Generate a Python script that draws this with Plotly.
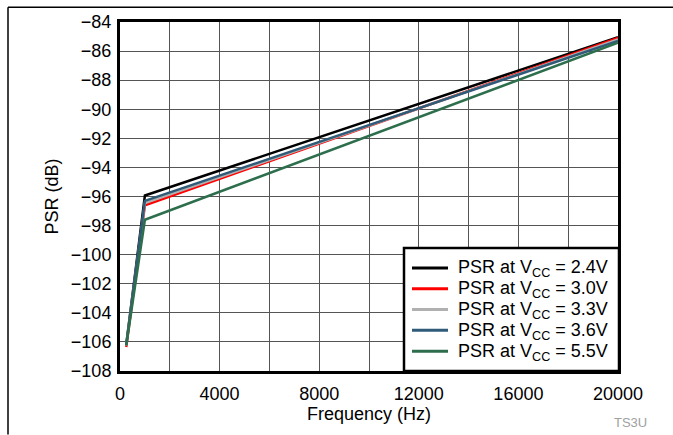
import plotly.graph_objects as go

freq_hz = [250, 1000, 20000]
psr_24 = [-106.2, -95.93, -85.05]
psr_30 = [-106.35, -96.6, -85.1]
psr_33 = [-106.25, -96.45, -85.2]
psr_36 = [-106.2, -96.3, -85.3]
psr_55 = [-106.25, -97.6, -85.43]

series_names = ["PSR at V<sub>CC</sub> = 2.4V", "PSR at V<sub>CC</sub> = 3.0V",
                "PSR at V<sub>CC</sub> = 3.3V", "PSR at V<sub>CC</sub> = 3.6V",
                "PSR at V<sub>CC</sub> = 5.5V"]
series_vals = [psr_24, psr_30, psr_33, psr_36, psr_55]
colors = ["#000000", "#ff0000", "#b0b0b0", "#2f5b78", "#2d6e4c"]

y_tickvals = list(range(-108, -83, 2))

W, H = 673, 435
L, R, T, B = 120, 55, 19, 64
pw, ph = W - L - R, H - T - B

def px(x):
    return (x - L) / pw

def py(y):
    return (H - B - y) / ph

fig = go.Figure()
for name, vals, c in zip(series_names, series_vals, colors):
    fig.add_trace(go.Scatter(x=freq_hz, y=vals, mode="lines", name=name,
                             line=dict(color=c, width=2.5), showlegend=False))

# legend box drawn as layout shapes/annotations
shapes = [
    dict(type="line", xref="paper", yref="paper", x0=px(8), x1=px(673),
         y0=py(4), y1=py(4), line=dict(color="black", width=1.5)),
    dict(type="line", xref="paper", yref="paper", x0=px(8), x1=px(8),
         y0=py(4), y1=py(435), line=dict(color="black", width=1.5)),
    dict(type="rect", xref="paper", yref="paper", x0=px(404), x1=px(619),
         y0=py(247), y1=py(371), layer="above",
         fillcolor="white", line=dict(color="black", width=2.5)),
]
annotations = [
    dict(text="TS3U", xref="paper", yref="paper", x=px(630), y=py(423),
         xanchor="center", yanchor="middle", showarrow=False,
         font=dict(size=13, color="#a0a0a0")),
]
entry_y0, entry_dy = 267, 21
for i, (name, c) in enumerate(zip(series_names, colors)):
    yy = entry_y0 + i * entry_dy
    shapes.append(dict(type="line", xref="paper", yref="paper", x0=px(412), x1=px(448),
                       y0=py(yy), y1=py(yy), layer="above",
                       line=dict(color=c, width=3)))
    annotations.append(dict(text=name, xref="paper", yref="paper", x=px(456), y=py(yy + 1),
                            xanchor="left", yanchor="middle", showarrow=False,
                            font=dict(size=18, color="black")))

font = "Liberation Sans, Arial, sans-serif"
fig.update_layout(
    width=W, height=H,
    margin=dict(l=L, r=R, t=T, b=B),
    paper_bgcolor="white", plot_bgcolor="white",
    font=dict(family=font, size=18, color="black"),
    showlegend=False,
    xaxis=dict(range=[0, 20000], tick0=0, dtick=4000, tickformat="d",
               minor=dict(dtick=2000, showgrid=True, gridcolor="#555555", gridwidth=1, ticks=""),
               showgrid=True, gridcolor="#555555", gridwidth=1,
               showline=True, linecolor="black", linewidth=3, mirror=True,
               ticks="", zeroline=False, ticklabelstandoff=4,
               title=dict(text="Frequency (Hz)", standoff=2, font=dict(size=18))),
    yaxis=dict(range=[-108, -84], tickvals=y_tickvals,
               showgrid=True, gridcolor="#555555", gridwidth=1,
               showline=True, linecolor="black", linewidth=3, mirror=True,
               ticks="", zeroline=False, ticklabelstandoff=2,
               title=dict(text="PSR (dB)", standoff=8, font=dict(size=18))),
    shapes=shapes,
    annotations=annotations,
)

fig.write_html("out.html", config={"displayModeBar": False},
               post_script="document.body.style.margin='0';document.body.style.padding='0';")
